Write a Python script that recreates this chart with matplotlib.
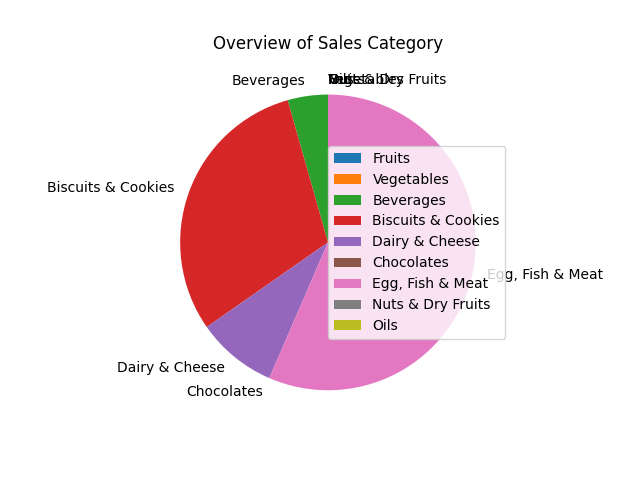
import matplotlib
matplotlib.use('Agg')
import matplotlib.pyplot as plt

categories = ['Fruits', 'Vegetables', 'Beverages', 'Biscuits & Cookies', 'Dairy & Cheese',
              'Chocolates', 'Egg, Fish & Meat', 'Nuts & Dry Fruits', 'Oils']
sales = [0, 0, 44, 303, 88, 0, 565, 0, 0]

fig, ax = plt.subplots(figsize=(6.4, 4.8), dpi=100)
wedges, texts = ax.pie(sales, labels=categories, startangle=90)

# the empty categories all sit at the top of the pie, left aligned
for value, txt in zip(sales, texts):
    if value == 0 and txt.get_position()[1] > 0.5:
        txt.set_horizontalalignment('left')

ax.set_title('Overview of Sales Category')
ax.legend(loc='center left', bbox_to_anchor=(0.5, 0.5), borderaxespad=0)
plt.savefig('out.png')
